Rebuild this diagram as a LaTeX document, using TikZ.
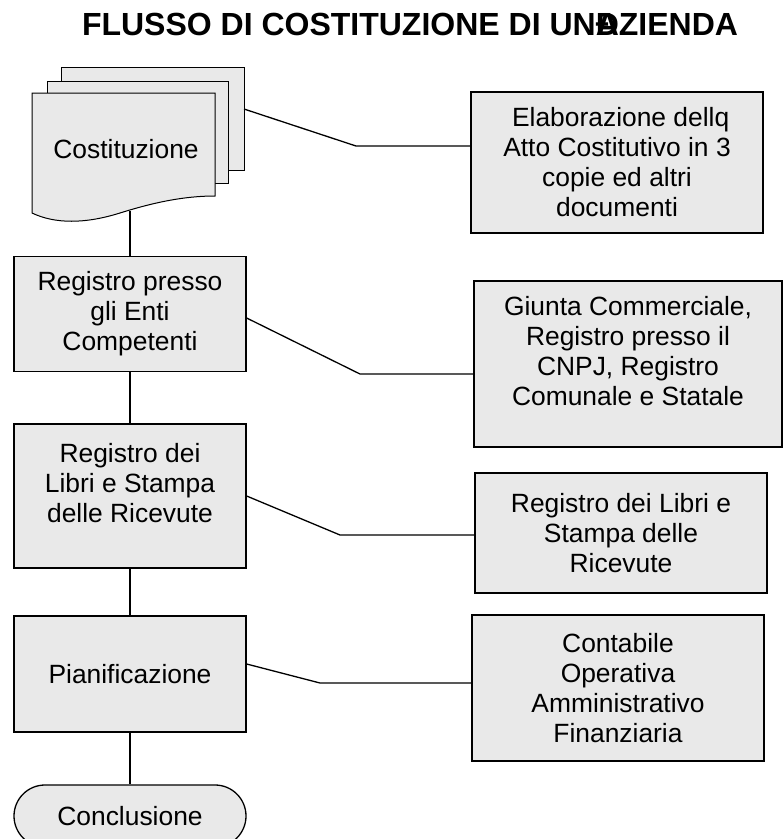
\documentclass[tikz,border=0pt]{standalone}
\usepackage{fontspec}
\setmainfont{Liberation Sans}
\usetikzlibrary{positioning}
\definecolor{boxgray}{HTML}{E9E9E9}
\tikzset{
  leftbox/.style={draw, line width=1.3pt, fill=boxgray, minimum width=232pt, align=center, inner sep=0pt},
  rightbox/.style={draw, line width=2pt, fill=boxgray, minimum width=292pt, align=center, inner sep=0pt},
  sheet/.style={draw, line width=1pt, fill=boxgray},
  link/.style={line width=1.3pt}
}
\newcommand{\padbelow}[1]{\rule[-#1]{0pt}{#1}}

\begin{document}
\begin{tikzpicture}[x=1pt, y=-1pt, font=\fontsize{26.4}{30}\selectfont]
  \useasboundingbox (0,0) rectangle (783,839);
  % Title
  \node[anchor=base, font=\fontsize{32}{36}\selectfont\bfseries] (title) at (410,35) {FLUSSO DI COSTITUZIONE DI UN\rlap{Đ}AZIENDA};

  % Document stack
  \node[sheet, minimum width=183pt, minimum height=103pt, anchor=north west] (sheetback) at (61,67) {};
  \node[sheet, minimum width=181pt, minimum height=102pt, anchor=north west] (sheetmid) at (47,81) {};
  \draw[sheet] (32,93) -- (215,93) -- (215,196) .. controls (185,196) and (155,202) .. (120,213) .. controls (85,224) and (55,224) .. (32,213) -- cycle;
  \node (cost) at (126,149) {Costituzione};
  \coordinate (docbot) at (130,211);
  \coordinate (docside) at (244,109);

  % Main steps
  \node[leftbox, minimum height=115pt] (enti) at (130,314) {Registro presso\\gli Enti\\Competenti};
  \node[leftbox, minimum height=144pt] (libri) at (130,496) {Registro dei\\Libri e Stampa\\delle Ricevute\padbelow{27pt}};
  \node[leftbox, minimum height=116pt] (pian) at (130,674) {Pianificazione};
  \node[leftbox, minimum height=62pt, rounded corners=31pt] (concl) at (130,816) {Conclusione};

  % Details
  \node[rightbox, minimum height=141pt] (elab) at (617,162.5) {\hspace*{0.28em}Elaborazione dellq\\Atto Costitutivo in 3\\copie ed altri\\documenti};
  \node[rightbox, minimum width=308pt, minimum height=166pt] (giunta) at (628,364) {Giunta Commerciale,\\Registro presso il\\CNPJ, Registro\\Comunale e Statale\padbelow{27pt}};
  \node[rightbox, minimum height=120pt] (ricev) at (621,533) {Registro dei Libri e\\Stampa delle\\Ricevute};
  \node[rightbox, minimum height=146pt] (contab) at (618,688) {Contabile\\Operativa\\Amministrativo\\Finanziaria};

  % Flow
  \draw[link] (docbot) -- (enti);
  \draw[link] (enti) -- (libri);
  \draw[link] (libri) -- (pian);
  \draw[link] (pian) -- (concl);

  % Side links
  \coordinate (bend1) at (356,146);
  \coordinate (bend2) at (360,374);
  \coordinate (bend3) at (340,535);
  \coordinate (bend4) at (320,683);
  \draw[link] (docside) -- (bend1) -- (bend1 -| elab.west);
  \draw[link] ([yshift=-4pt]enti.east) -- (bend2) -- (bend2 -| giunta.west);
  \draw[link] (libri.east) -- (bend3) -- (bend3 -| ricev.west);
  \draw[link] ([yshift=10pt]pian.east) -- (bend4) -- (bend4 -| contab.west);
\end{tikzpicture}
\end{document}
